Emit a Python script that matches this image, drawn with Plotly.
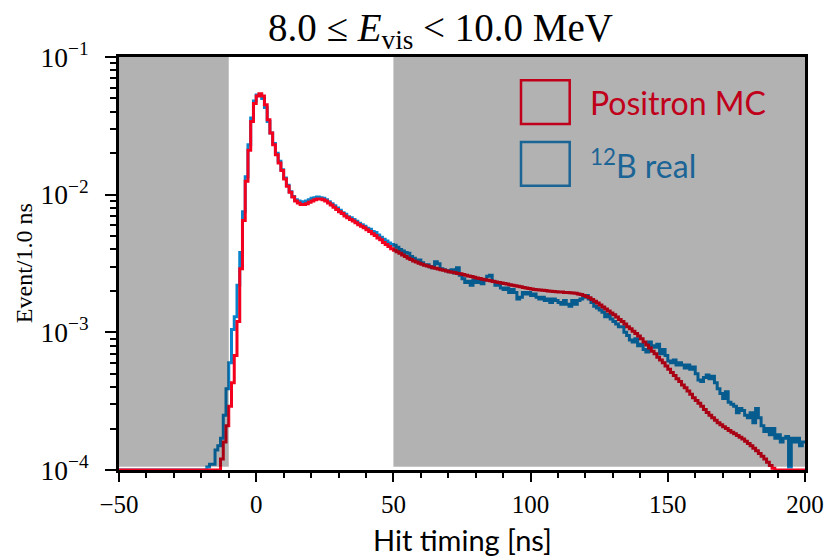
import plotly.graph_objects as go
import numpy as np

# Hit timing bins (1 ns wide), lower edges from -50 to 199 ns
bin_lo = list(range(-50, 200))

# Positron MC (normalized events per 1.0 ns), rows of 10 bins starting at -50 ns
positron_mc = [
    0, 0, 0, 0, 0, 0, 0, 0, 0, 0,                                   # -50..-41
    0, 0, 0, 0, 0, 0, 0, 0, 0, 0,                                   # -40..-31
    0, 0, 0, 0, 0, 0, 0, 0, 0, 0,                                   # -30..-21
    0, 0, 0, 0, 0, 0, 0, 1.2e-4, 1.6e-4, 2.1e-4,                    # -20..-11
    2.9e-4, 4.3e-4, 6.8e-4, 1.2e-3, 2.9e-3, 6.5e-3, 1.25e-2, 2.1e-2, 3.4e-2, 4.6e-2,   # -10..-1
    5.2e-2, 5.4e-2, 5.2e-2, 4.5e-2, 3.5e-2, 2.8e-2, 2.3e-2, 1.95e-2, 1.7e-2, 1.5e-2,  # 0..9
    1.3e-2, 1.15e-2, 1.04e-2, 9.6e-3, 9.0e-3, 8.7e-3, 8.5e-3, 8.5e-3, 8.6e-3, 8.8e-3, # 10..19
    9.0e-3, 9.2e-3, 9.3e-3, 9.3e-3, 9.2e-3, 9.0e-3, 8.7e-3, 8.4e-3, 8.1e-3, 7.8e-3,   # 20..29
    7.5e-3, 7.3e-3, 7.0e-3, 6.8e-3, 6.6e-3, 6.45e-3, 6.25e-3, 6.05e-3, 5.9e-3, 5.75e-3,  # 30..39
    5.55e-3, 5.4e-3, 5.2e-3, 5.05e-3, 4.85e-3, 4.7e-3, 4.5e-3, 4.35e-3, 4.2e-3, 4.05e-3, # 40..49
    3.95e-3, 3.85e-3, 3.75e-3, 3.65e-3, 3.55e-3, 3.45e-3, 3.38e-3, 3.3e-3, 3.24e-3, 3.18e-3,  # 50..59
    3.12e-3, 3.07e-3, 3.03e-3, 2.99e-3, 2.95e-3, 2.92e-3, 2.88e-3, 2.85e-3, 2.82e-3, 2.79e-3, # 60..69
    2.76e-3, 2.73e-3, 2.71e-3, 2.68e-3, 2.66e-3, 2.63e-3, 2.6e-3, 2.57e-3, 2.54e-3, 2.51e-3,  # 70..79
    2.48e-3, 2.46e-3, 2.43e-3, 2.41e-3, 2.39e-3, 2.37e-3, 2.34e-3, 2.32e-3, 2.30e-3, 2.28e-3, # 80..89
    2.26e-3, 2.24e-3, 2.22e-3, 2.20e-3, 2.18e-3, 2.16e-3, 2.14e-3, 2.12e-3, 2.10e-3, 2.08e-3, # 90..99
    2.06e-3, 2.05e-3, 2.04e-3, 2.03e-3, 2.02e-3, 2.01e-3, 2.0e-3, 1.99e-3, 1.98e-3, 1.97e-3,  # 100..109
    1.96e-3, 1.96e-3, 1.95e-3, 1.95e-3, 1.94e-3, 1.93e-3, 1.92e-3, 1.90e-3, 1.88e-3, 1.85e-3, # 110..119
    1.82e-3, 1.78e-3, 1.73e-3, 1.68e-3, 1.63e-3, 1.58e-3, 1.53e-3, 1.48e-3, 1.43e-3, 1.38e-3, # 120..129
    1.34e-3, 1.29e-3, 1.24e-3, 1.20e-3, 1.15e-3, 1.10e-3, 1.06e-3, 1.02e-3, 9.8e-4, 9.4e-4,   # 130..139
    9.0e-4, 8.5e-4, 8.1e-4, 7.7e-4, 7.3e-4, 7.0e-4, 6.6e-4, 6.3e-4, 6.0e-4, 5.7e-4,          # 140..149
    5.4e-4, 5.1e-4, 4.85e-4, 4.6e-4, 4.4e-4, 4.15e-4, 3.95e-4, 3.75e-4, 3.55e-4, 3.35e-4,    # 150..159
    3.2e-4, 3.05e-4, 2.9e-4, 2.75e-4, 2.62e-4, 2.5e-4, 2.4e-4, 2.3e-4, 2.2e-4, 2.13e-4,      # 160..169
    2.06e-4, 2.0e-4, 1.94e-4, 1.88e-4, 1.83e-4, 1.78e-4, 1.73e-4, 1.68e-4, 1.62e-4, 1.56e-4, # 170..179
    1.50e-4, 1.44e-4, 1.38e-4, 1.32e-4, 1.26e-4, 1.2e-4, 1.14e-4, 1.08e-4, 1.03e-4, 0,       # 180..189
    0, 0, 0, 0, 0, 0, 0, 0, 0, 0,                                                             # 190..199
]

# 12B real data (normalized events per 1.0 ns)
b12_real = [
    0, 0, 0, 0, 0, 0, 0, 0, 0, 0,                                   # -50..-41
    0, 0, 0, 0, 0, 0, 0, 0, 0, 0,                                   # -40..-31
    0, 0, 0, 0, 0, 0, 0, 0, 0, 0,                                   # -30..-21
    0, 0, 1.05e-4, 1.1e-4, 1.1e-4, 1.4e-4, 1.5e-4, 1.7e-4, 2.5e-4, 3.9e-4,           # -20..-11
    6.0e-4, 1.05e-3, 1.3e-3, 2.2e-3, 3.8e-3, 7.5e-3, 1.35e-2, 2.3e-2, 3.6e-2, 4.8e-2,  # -10..-1
    5.3e-2, 5.3e-2, 5.0e-2, 4.3e-2, 3.4e-2, 2.8e-2, 2.35e-2, 2.0e-2, 1.75e-2, 1.52e-2, # 0..9
    1.32e-2, 1.17e-2, 1.05e-2, 9.7e-3, 9.2e-3, 9.0e-3, 8.9e-3, 8.9e-3, 9.0e-3, 9.2e-3, # 10..19
    9.4e-3, 9.5e-3, 9.6e-3, 9.5e-3, 9.4e-3, 9.2e-3, 8.9e-3, 8.6e-3, 8.3e-3, 8.0e-3,    # 20..29
    7.7e-3, 7.4e-3, 7.2e-3, 6.9e-3, 6.8e-3, 6.6e-3, 6.4e-3, 6.2e-3, 6.05e-3, 5.9e-3,   # 30..39
    5.7e-3, 5.6e-3, 5.4e-3, 5.3e-3, 5.1e-3, 4.9e-3, 4.75e-3, 4.6e-3, 4.45e-3, 4.35e-3, # 40..49
    4.3e-3, 4.15e-3, 4.0e-3, 3.9e-3, 3.8e-3, 3.75e-3, 3.55e-3, 3.45e-3, 3.3e-3, 3.35e-3,  # 50..59
    3.2e-3, 3.1e-3, 3.1e-3, 3.0e-3, 2.95e-3, 3.25e-3, 3.15e-3, 2.9e-3, 2.85e-3, 2.8e-3,   # 60..69
    2.75e-3, 2.85e-3, 2.7e-3, 2.95e-3, 2.6e-3, 2.45e-3, 2.3e-3, 2.35e-3, 2.2e-3, 2.4e-3,  # 70..79
    2.3e-3, 2.35e-3, 2.25e-3, 2.4e-3, 2.55e-3, 2.6e-3, 2.35e-3, 2.2e-3, 2.25e-3, 2.1e-3,  # 80..89
    2.05e-3, 2.1e-3, 1.95e-3, 2.05e-3, 1.95e-3, 1.75e-3, 1.8e-3, 1.95e-3, 1.9e-3, 1.95e-3, # 90..99
    1.85e-3, 1.9e-3, 1.8e-3, 1.75e-3, 1.8e-3, 1.7e-3, 1.75e-3, 1.65e-3, 1.75e-3, 1.7e-3,  # 100..109
    1.65e-3, 1.6e-3, 1.7e-3, 1.6e-3, 1.55e-3, 1.7e-3, 1.6e-3, 1.7e-3, 1.75e-3, 1.8e-3,    # 110..119
    1.85e-3, 1.75e-3, 1.65e-3, 1.55e-3, 1.5e-3, 1.45e-3, 1.4e-3, 1.3e-3, 1.35e-3, 1.25e-3, # 120..129
    1.2e-3, 1.15e-3, 1.1e-3, 1.1e-3, 1.0e-3, 9.5e-4, 8.8e-4, 8.5e-4, 9.0e-4, 8.0e-4,      # 130..139
    8.2e-4, 7.5e-4, 7.2e-4, 8.5e-4, 8.0e-4, 7.8e-4, 8.2e-4, 7.0e-4, 7.5e-4, 6.8e-4,       # 140..149
    6.2e-4, 6.0e-4, 6.3e-4, 5.8e-4, 6.0e-4, 5.8e-4, 5.5e-4, 5.8e-4, 5.4e-4, 5.6e-4,       # 150..159
    5.0e-4, 4.5e-4, 4.4e-4, 4.7e-4, 4.9e-4, 4.6e-4, 4.8e-4, 4.3e-4, 3.9e-4, 3.6e-4,       # 160..169
    3.3e-4, 3.7e-4, 3.1e-4, 3.0e-4, 2.9e-4, 2.6e-4, 2.8e-4, 2.7e-4, 2.5e-4, 2.4e-4,       # 170..179
    2.6e-4, 2.2e-4, 2.8e-4, 2.4e-4, 2.1e-4, 1.9e-4, 2.0e-4, 1.8e-4, 2.0e-4, 1.7e-4,       # 180..189
    1.8e-4, 1.6e-4, 1.7e-4, 1.75e-4, 1.05e-4, 1.7e-4, 1.6e-4, 1.7e-4, 1.5e-4, 1.6e-4,     # 190..199
]

x_range = [-50, 200]
y_log_range = [-4, -1]
window = [-10, 50]   # unshaded hit-timing window
series_names = ["Positron MC", "<sup>12</sup>B real"]

floor = 10 ** y_log_range[0]


def steps(vals):
    v = np.maximum(np.asarray(vals, dtype=float), floor)
    xs = bin_lo + [bin_lo[-1] + 1]
    ys = list(v) + [v[-1]]
    return xs, ys


fig = go.Figure()
xb, yb = steps(b12_real)
fig.add_trace(go.Scatter(x=xb, y=yb, mode="lines", line=dict(shape="hv", color="#0A84CC", width=3),
                         showlegend=False, hoverinfo="skip"))
xr, yr = steps(positron_mc)
fig.add_trace(go.Scatter(x=xr, y=yr, mode="lines", line=dict(shape="hv", color="#F2001E", width=3),
                         showlegend=False, hoverinfo="skip"))

shapes = []
for a, b in [(x_range[0], window[0]), (window[1], x_range[1])]:
    shapes.append(dict(type="rect", xref="x", yref="paper", x0=a, x1=b, y0=0.008, y1=1,
                       fillcolor="rgba(0,0,0,0.3)", line=dict(width=0), layer="above"))

# legend boxes
leg_red = "#C0001A"
leg_blue = "#1B6496"
shapes.append(dict(type="rect", xref="paper", yref="paper", x0=0.586, x1=0.657, y0=0.838, y1=0.944,
                   line=dict(color=leg_red, width=2.5), fillcolor="rgba(0,0,0,0)", layer="above"))
shapes.append(dict(type="rect", xref="paper", yref="paper", x0=0.586, x1=0.657, y0=0.688, y1=0.794,
                   line=dict(color=leg_blue, width=2.5), fillcolor="rgba(0,0,0,0)", layer="above"))

annotations = [
    dict(text=series_names[0], xref="paper", yref="paper", x=0.684, y=0.891, xanchor="left", yanchor="middle",
         showarrow=False, font=dict(family="Lato", size=32, color=leg_red)),
    dict(text=series_names[1], xref="paper", yref="paper", x=0.684, y=0.741, xanchor="left", yanchor="middle",
         showarrow=False, font=dict(family="Lato", size=32, color=leg_blue)),
    dict(text="8.0 ≤ <i>E</i><sub>vis</sub> &lt; 10.0 MeV", xref="paper", yref="paper", x=0.469, y=1.064,
         xanchor="center", yanchor="middle", showarrow=False,
         font=dict(family="Liberation Serif", size=39, color="black")),
    dict(text="Event/1.0 ns", xref="paper", yref="paper", x=-0.139, y=0.5, textangle=-90,
         xanchor="center", yanchor="middle", showarrow=False,
         font=dict(family="Liberation Serif", size=24, color="black")),
    dict(text="Hit timing [ns]", xref="paper", yref="paper", x=0.5, y=-0.169,
         xanchor="center", yanchor="middle", showarrow=False,
         font=dict(family="Lato", size=29, color="black")),
]

fig.update_layout(
    width=827, height=559,
    margin=dict(l=119, r=22, t=57, b=89, autoexpand=False),
    paper_bgcolor="white", plot_bgcolor="white",
    shapes=shapes, annotations=annotations, showlegend=False,
    xaxis=dict(range=x_range, dtick=50, tick0=0, ticks="outside", ticklen=9, tickwidth=2, tickcolor="black",
               showline=True, linewidth=3, linecolor="black", mirror=True, showgrid=False, zeroline=False,
               tickfont=dict(family="Liberation Serif", size=25, color="black"), ticklabelstandoff=1,
               minor=dict(ticks="outside", ticklen=5, tickwidth=2, tickcolor="black", dtick=10, showgrid=False)),
    yaxis=dict(type="log", range=y_log_range, dtick=1, exponentformat="power", ticks="outside", ticklen=11,
               tickwidth=2, tickcolor="black", showline=True, linewidth=3, linecolor="black", mirror=True,
               showgrid=False, zeroline=False, ticklabelstandoff=12,
               tickfont=dict(family="Liberation Serif", size=22, color="black"),
               minor=dict(ticks="outside", ticklen=6, tickwidth=2, tickcolor="black", dtick="D1", showgrid=False)),
)

fig.write_html("out.html", config={"displayModeBar": False},
               post_script="document.body.style.margin='0';document.body.style.overflow='hidden';")
